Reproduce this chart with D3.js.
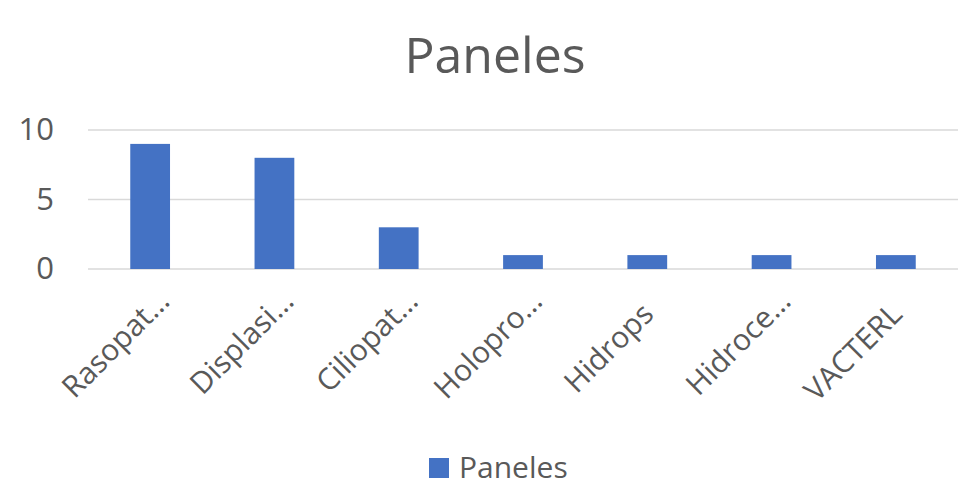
<!DOCTYPE html>
<html><head><meta charset="utf-8">
<script src="https://cdn.jsdelivr.net/npm/d3@7"></script>
<style>body{margin:0;background:#fff}</style>
</head><body>
<svg id="c" width="980" height="503"></svg>
<script>
const categories = ["Rasopat…","Displasi…","Ciliopat…","Holopro…","Hidrops","Hidroce…","VACTERL"];
const values = [9,8,3,1,1,1,1];
const yTicks = [0,5,10];
const seriesName = "Paneles";
const font = "'Open Sans', sans-serif";
const svg = d3.select("#c");
const x = d3.scaleBand().domain(categories).range([88,958]).paddingInner(0.68).paddingOuter(0.34);
const y = d3.scaleLinear().domain([0,10]).range([269,130]);
svg.append("g").selectAll("line").data(yTicks).join("line")
  .attr("x1",88).attr("x2",958).attr("y1",d=>y(d)).attr("y2",d=>y(d))
  .attr("stroke","#d9d9d9").attr("stroke-width",1.5);
svg.append("g").selectAll("text").data(yTicks).join("text")
  .attr("x",54).attr("y",d=>y(d)+10).attr("text-anchor","end")
  .attr("font-family",font).attr("font-size",31).attr("fill","#595959").text(d=>d);
svg.append("g").selectAll("rect").data(values).join("rect")
  .attr("x",(d,i)=>x(categories[i])).attr("width",x.bandwidth())
  .attr("y",d=>y(d)).attr("height",d=>y(0)-y(d)).attr("fill","#4472c4");
svg.append("g").selectAll("text").data(categories).join("text")
  .attr("transform",d=>{
    const off = d.endsWith("…") ? 0 : 13;
    return `translate(${x(d)+x.bandwidth()/2+21-off},${303+off}) rotate(-45)`;
  })
  .attr("text-anchor","end").attr("font-family",font).attr("font-size",30).attr("fill","#595959").text(d=>d);
svg.append("text").attr("x",495).attr("y",73).attr("text-anchor","middle")
  .attr("font-family",font).attr("font-size",50).attr("fill","#595959").text("Paneles");
svg.append("rect").attr("x",429).attr("y",458).attr("width",20).attr("height",20).attr("fill","#4472c4");
svg.append("text").attr("x",459).attr("y",478).attr("font-family",font).attr("font-size",30).attr("fill","#595959").text(seriesName);
</script>
</body></html>
